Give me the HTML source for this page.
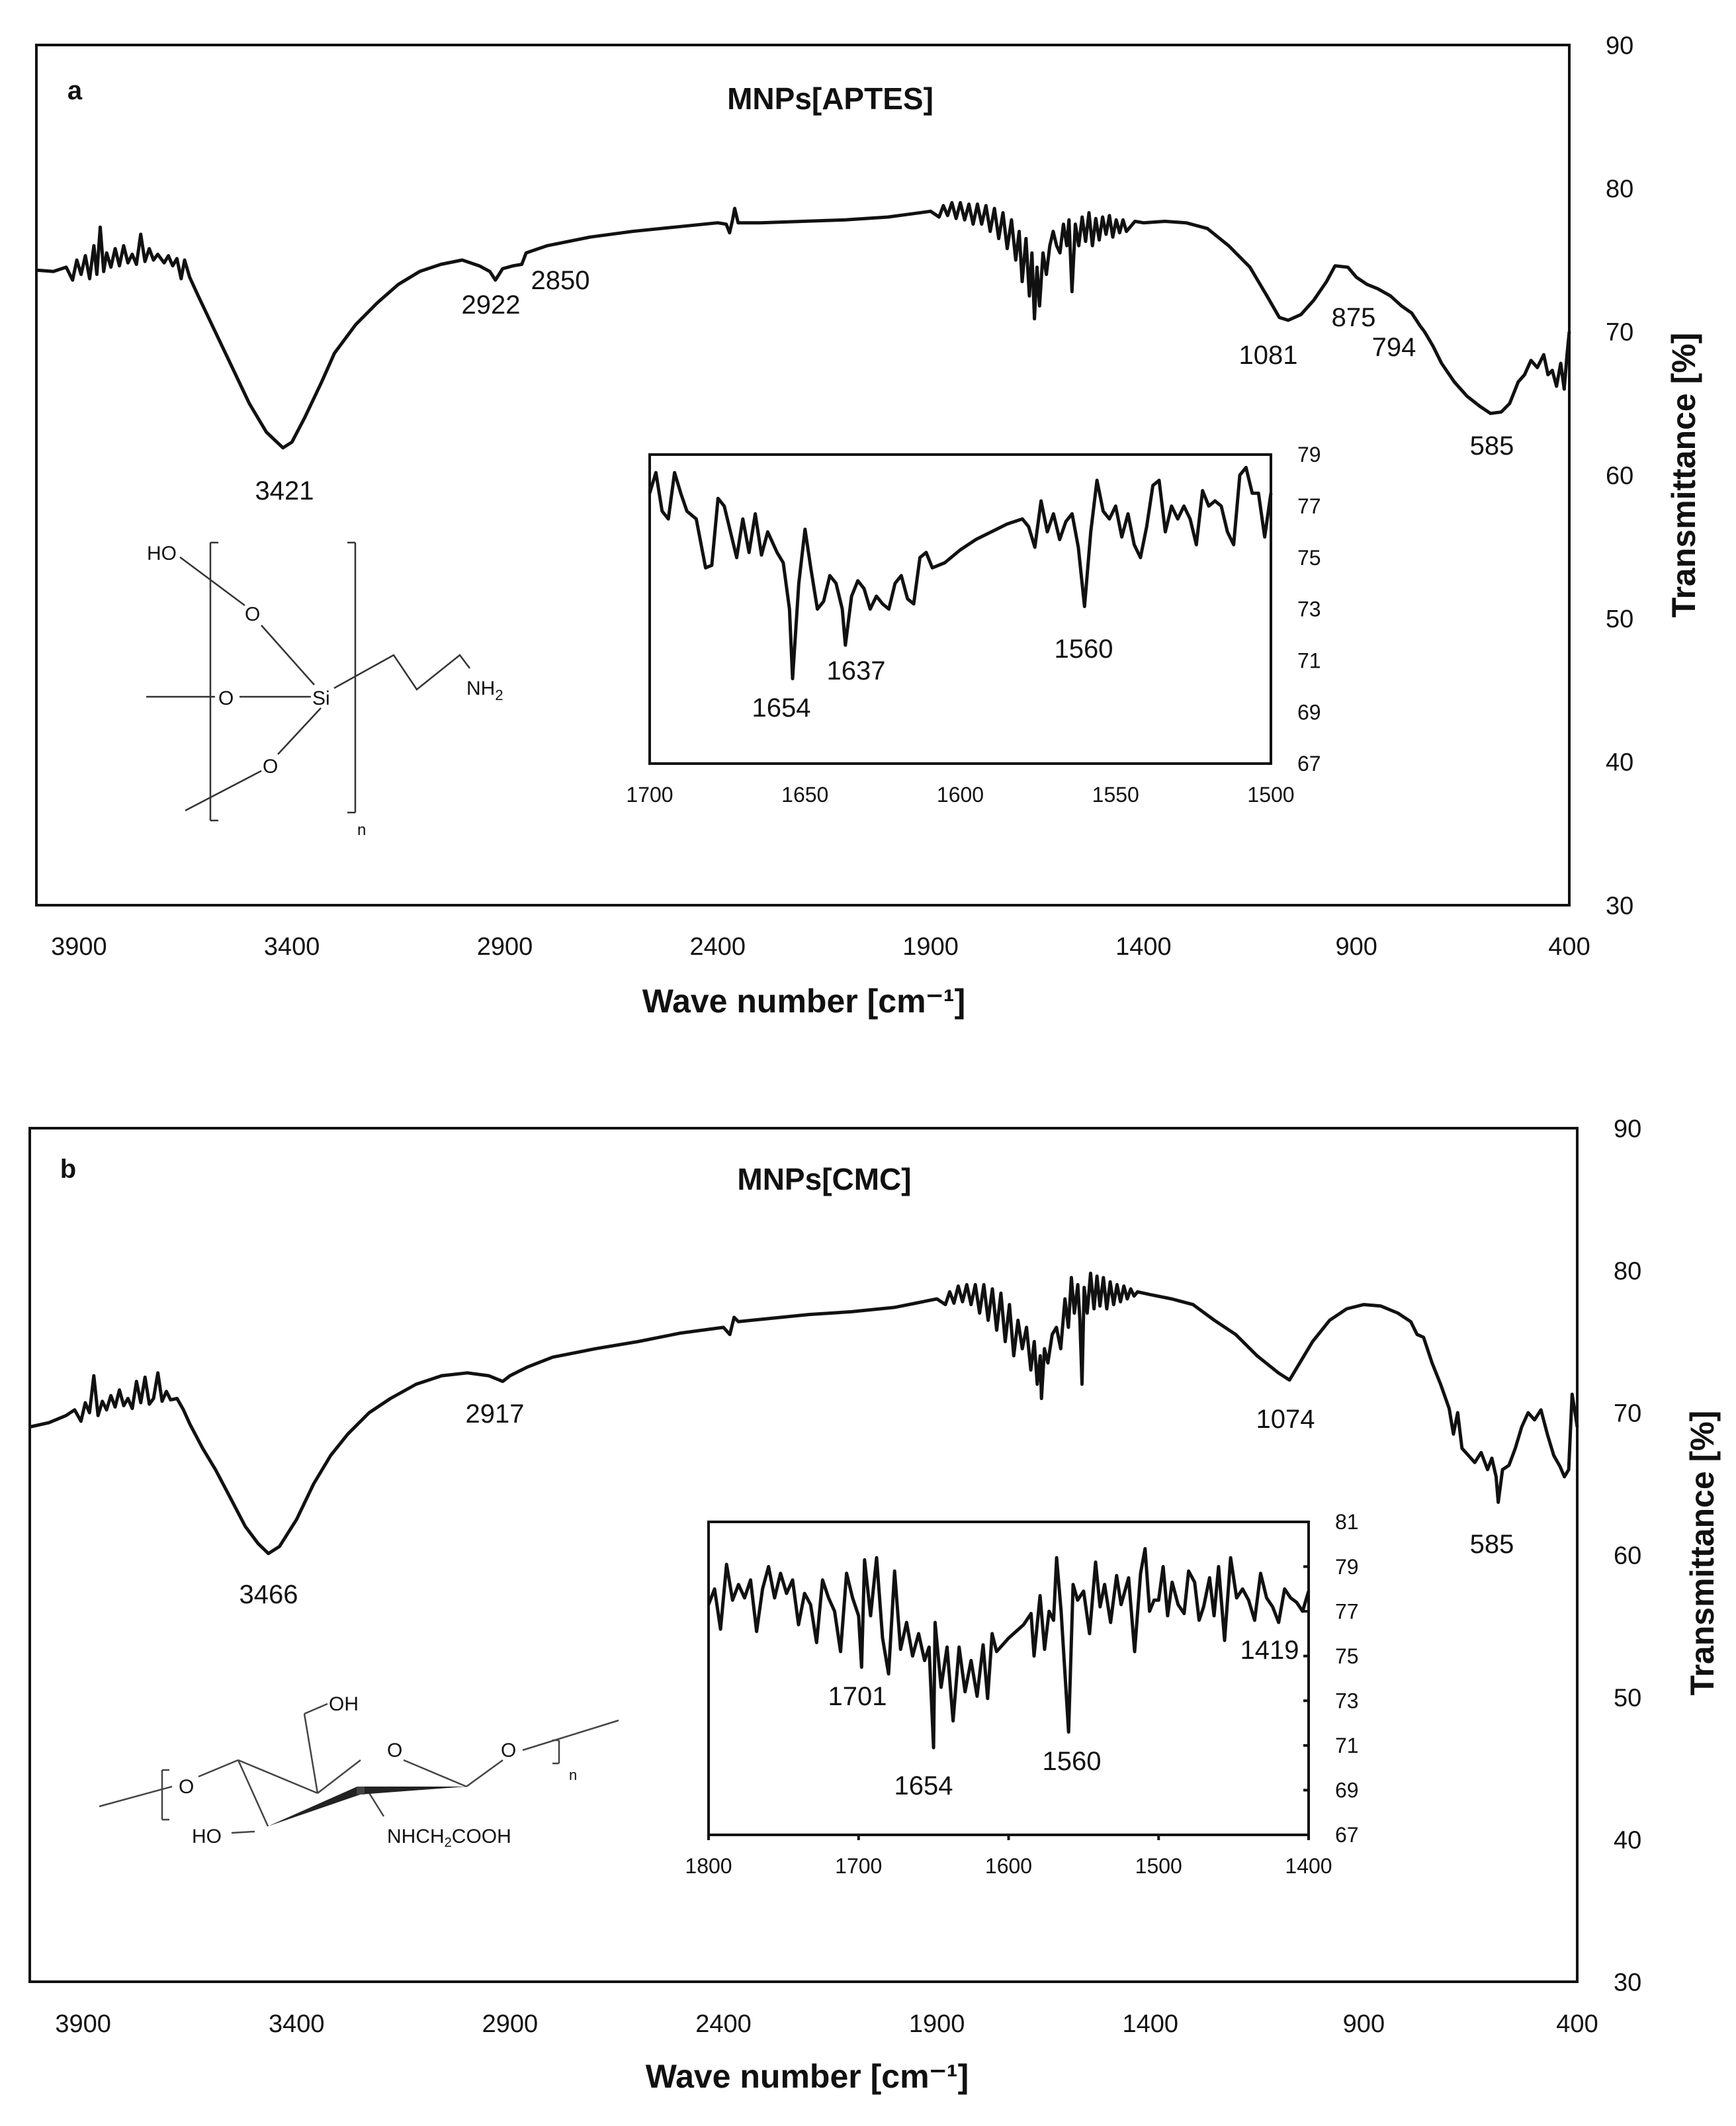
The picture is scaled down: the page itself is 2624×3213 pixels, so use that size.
<!DOCTYPE html>
<html><head><meta charset="utf-8"><style>
body{margin:0;background:#fff}
svg{display:block}
text{font-family:"Liberation Sans",sans-serif;fill:#111}
</style></head><body>
<svg id="fig" xmlns="http://www.w3.org/2000/svg" width="2624" height="3213" viewBox="0 0 2624 3213">
<rect width="2624" height="3213" fill="#fff"/>
<g id="panelA"></g>
<g id="panelB"></g>
<g id="structA" stroke="#333" stroke-width="2.5" fill="none">
 <line x1="318" y1="820" x2="318" y2="1240"/><line x1="318" y1="820" x2="330" y2="820"/><line x1="318" y1="1240" x2="330" y2="1240"/>
 <line x1="537" y1="820" x2="537" y2="1228"/><line x1="525" y1="820" x2="537" y2="820"/><line x1="525" y1="1228" x2="537" y2="1228"/>
 <line x1="272" y1="842" x2="370" y2="915"/><line x1="395" y1="945" x2="475" y2="1035"/>
 <line x1="221" y1="1053" x2="325" y2="1053"/><line x1="362" y1="1053" x2="470" y2="1053"/>
 <line x1="485" y1="1070" x2="420" y2="1140"/><line x1="395" y1="1165" x2="280" y2="1225"/>
 <polyline points="505,1040 595,990 630,1042 695,990 710,1010"/>
</g>
<g font-size="30">
 <text x="222" y="846">HO</text><text x="370" y="938">O</text><text x="330" y="1065">O</text>
 <text x="472" y="1065">Si</text><text x="397" y="1168">O</text><text x="705" y="1050">NH<tspan font-size="22" dy="8">2</tspan></text>
 <text x="540" y="1262" font-size="24">n</text>
</g>
<g id="structB" stroke="#444" stroke-width="2.5" fill="none">
 <line x1="150" y1="2730" x2="260" y2="2700"/><line x1="245" y1="2675" x2="245" y2="2750"/><line x1="245" y1="2675" x2="256" y2="2675"/><line x1="245" y1="2750" x2="256" y2="2750"/>
 <line x1="300" y1="2685" x2="360" y2="2660"/><line x1="360" y1="2660" x2="480" y2="2710"/><line x1="360" y1="2660" x2="405" y2="2760"/>
 <line x1="480" y1="2710" x2="545" y2="2660"/><line x1="480" y1="2710" x2="460" y2="2590"/><line x1="460" y1="2590" x2="495" y2="2575"/>
 <line x1="610" y1="2660" x2="705" y2="2700"/><line x1="705" y1="2700" x2="760" y2="2660"/><line x1="790" y1="2645" x2="935" y2="2600"/>
 <line x1="845" y1="2630" x2="845" y2="2665"/><line x1="835" y1="2630" x2="845" y2="2630"/><line x1="835" y1="2665" x2="845" y2="2665"/>
 <line x1="385" y1="2768" x2="350" y2="2770"/><line x1="555" y1="2705" x2="580" y2="2745"/>
 <polygon points="405,2760 540,2700 705,2700 545,2712" fill="#222" stroke="none"/>
 <line x1="545" y1="2700" x2="545" y2="2712" stroke-width="12"/>
</g>
<g font-size="30" fill="#333">
 <text x="270" y="2710">O</text><text x="497" y="2585">OH</text><text x="585" y="2655">O</text>
 <text x="757" y="2655">O</text><text x="860" y="2690" font-size="22">n</text>
 <text x="290" y="2785">HO</text><text x="585" y="2785">NHCH<tspan font-size="20" dy="6">2</tspan><tspan dy="-6">COOH</tspan></text>
</g>
</svg>
<script>
// ---- Panel a main spectrum (wavenumber, %T)
const aWave=[4000,3960,3930,3915,3905,3895,3885,3875,3865,3858,3850,3842,3835,3825,3815,3805,3795,3785,3775,3765,3755,3745,3735,3725,3715,3700,3690,3680,3670,3660,3652,3640,3620,3580,3540,3500,3460,3421,3400,3370,3330,3300,3250,3200,3150,3100,3050,3000,2960,2935,2922,2905,2880,2860,2850,2800,2700,2600,2500,2400,2380,2372,2365,2360,2352,2300,2200,2100,2000,1950,1900,1880,1870,1860,1850,1840,1830,1820,1810,1800,1790,1780,1770,1760,1750,1740,1730,1720,1710,1700,1692,1685,1676,1668,1662,1656,1650,1644,1636,1628,1620,1612,1604,1596,1588,1580,1575,1568,1560,1552,1544,1536,1528,1520,1512,1504,1496,1488,1480,1472,1464,1456,1448,1440,1420,1400,1350,1300,1250,1200,1150,1110,1081,1060,1030,1000,970,950,920,900,875,850,820,794,770,750,740,720,700,670,640,610,585,560,540,520,505,490,475,460,450,440,430,420,412,405,400];
const aTrans=[74.3,74.2,74.5,73.6,75.0,74.0,75.3,73.7,76.0,74.0,77.3,74.2,75.5,74.5,75.8,74.6,76.0,74.8,75.4,74.7,76.8,74.9,75.8,75.0,75.4,74.8,75.3,74.6,75.1,73.7,75.0,73.8,72.5,70.0,67.5,65.0,63.0,61.9,62.3,64.0,66.5,68.5,70.5,72.0,73.3,74.2,74.7,75.0,74.6,74.2,73.6,74.4,74.6,74.7,75.5,76.0,76.6,77.0,77.3,77.6,77.5,76.9,77.8,78.6,77.6,77.6,77.7,77.8,78.0,78.2,78.4,78.0,78.8,78.1,79.0,77.9,79.0,77.8,78.9,77.5,78.9,77.5,78.8,77.0,78.6,76.5,78.3,75.8,77.8,75.0,77.0,73.5,76.5,72.5,75.5,70.9,74.5,71.8,75.5,74.0,76.0,77.0,76.0,75.5,77.5,76.0,77.8,72.8,77.5,76.0,78.0,76.3,78.3,76.0,77.9,76.4,78.0,76.8,78.1,76.6,77.8,76.9,77.8,77.0,77.7,77.6,77.7,77.6,77.2,76.0,74.5,72.5,71.0,70.8,71.2,72.2,73.5,74.6,74.5,73.8,73.3,73.0,72.5,71.8,71.3,70.4,70.0,69.0,67.8,66.5,65.5,64.8,64.3,64.4,65.0,66.5,67.0,68.0,67.5,68.4,67.0,67.3,66.2,67.8,66.0,68.5,70.0,69.0];
// ---- Panel a inset
const aiWave=[1700,1698,1696,1694,1692,1690,1688,1685,1682,1680,1678,1676,1674,1672,1670,1668,1666,1664,1662,1659,1657,1655,1654,1652,1650,1648,1646,1644,1642,1640,1638,1637,1635,1633,1631,1629,1627,1625,1623,1621,1619,1617,1615,1613,1611,1609,1605,1600,1595,1590,1585,1580,1578,1576,1574,1572,1570,1568,1566,1564,1562,1560,1558,1556,1554,1552,1550,1548,1546,1544,1542,1540,1538,1536,1534,1532,1530,1528,1526,1524,1522,1520,1518,1516,1514,1512,1510,1508,1506,1504,1502,1500];
const aiTrans=[77.5,78.3,76.8,76.5,78.3,77.5,76.8,76.5,74.6,74.7,77.3,77.0,76.0,75.0,76.5,75.2,76.7,75.1,76.0,75.2,74.8,73.0,70.3,74.0,76.1,74.5,73.0,73.3,74.3,74.0,73.0,71.6,73.5,74.1,73.8,73.0,73.5,73.2,73.0,74.0,74.3,73.4,73.2,75.0,75.2,74.6,74.8,75.3,75.7,76.0,76.3,76.5,76.2,75.4,77.2,76.0,76.7,75.7,76.4,76.7,75.4,73.1,76.0,78.0,76.8,76.5,77.0,75.8,76.7,75.5,75.0,76.2,77.8,78.0,76.0,77.0,76.5,77.0,76.5,75.5,77.6,77.0,77.2,77.0,76.0,75.5,78.2,78.5,77.5,77.5,75.8,77.5];
// ---- Panel b main spectrum
const bWave=[4025,3980,3940,3920,3905,3895,3885,3875,3865,3855,3845,3835,3825,3815,3805,3795,3785,3775,3765,3755,3745,3735,3725,3715,3705,3695,3680,3665,3650,3620,3590,3560,3520,3490,3466,3440,3400,3360,3320,3280,3230,3180,3120,3060,3000,2950,2917,2900,2880,2860,2800,2700,2600,2500,2400,2385,2375,2365,2300,2200,2100,2000,1950,1900,1880,1870,1860,1850,1840,1830,1820,1810,1800,1790,1780,1770,1760,1750,1740,1730,1720,1710,1700,1690,1680,1672,1665,1658,1655,1648,1640,1630,1620,1610,1600,1592,1585,1578,1570,1565,1560,1555,1548,1540,1532,1525,1518,1510,1502,1494,1486,1478,1470,1462,1454,1446,1438,1430,1400,1350,1300,1250,1200,1150,1100,1074,1050,1020,980,940,900,860,820,790,775,760,740,720,700,690,680,670,655,640,625,610,600,590,585,575,560,545,530,515,500,485,470,455,440,430,420,412,405,400];
const bTrans=[69.0,69.3,69.8,70.2,69.4,70.7,70.0,72.6,69.8,70.8,70.2,71.2,70.4,71.6,70.5,71.0,70.3,72.2,70.7,72.5,70.6,71.0,72.8,70.8,71.5,70.9,71.0,70.2,69.2,67.5,66.0,64.3,62.0,60.8,60.1,60.6,62.5,65.0,67.0,68.5,70.0,71.0,72.0,72.6,72.8,72.6,72.2,72.6,72.9,73.2,73.9,74.5,75.0,75.6,76.0,75.5,76.7,76.4,76.6,76.9,77.1,77.4,77.7,78.0,77.6,78.5,77.7,78.9,77.8,79.0,77.6,79.0,77.0,79.0,76.5,78.7,75.8,78.4,75.0,77.6,74.0,76.5,74.5,76.0,73.0,75.0,72.0,74.0,71.0,74.5,73.5,75.5,76.0,74.5,78.0,76.0,79.5,77.0,79.0,76.5,72.0,78.8,77.0,79.8,77.3,79.6,77.5,79.5,77.3,79.2,77.6,79.0,77.8,78.9,78.0,78.7,78.2,78.5,78.3,78.0,77.6,76.5,75.5,74.0,72.8,72.3,73.5,75.0,76.5,77.3,77.6,77.5,77.0,76.4,75.5,75.3,73.5,72.0,70.3,68.5,70.0,67.5,67.0,66.5,67.2,66.0,66.8,65.5,63.7,66.0,66.3,67.5,69.0,70.0,69.5,70.2,68.5,67.0,66.2,65.5,66.0,71.3,70.0,69.0];
// ---- Panel b inset
const biWave=[1800,1796,1792,1788,1784,1780,1776,1772,1768,1764,1760,1756,1752,1748,1744,1740,1736,1732,1728,1724,1720,1716,1712,1708,1704,1700,1698,1696,1692,1688,1684,1680,1676,1672,1668,1664,1660,1656,1653,1650,1649,1645,1641,1637,1633,1629,1625,1621,1617,1614,1611,1608,1600,1590,1585,1583,1579,1576,1573,1570,1568,1565,1560,1557,1554,1550,1546,1542,1539,1536,1532,1528,1525,1520,1516,1512,1509,1506,1503,1500,1497,1494,1491,1487,1483,1480,1476,1473,1470,1466,1463,1460,1456,1452,1448,1444,1440,1436,1432,1428,1424,1420,1416,1412,1408,1404,1400];
const biTrans=[77.3,78.0,76.2,79.1,77.5,78.2,77.6,78.4,76.1,78.0,79.0,77.6,78.7,77.8,78.4,76.4,77.8,77.3,75.6,78.4,77.6,77.0,75.2,78.7,77.6,76.8,74.5,79.3,76.8,79.4,75.8,74.2,78.8,75.3,76.5,75.0,76.0,74.8,75.4,70.9,76.5,73.6,75.4,72.1,75.4,73.4,74.8,73.2,75.5,73.1,76.0,75.2,75.8,76.4,76.9,75.0,77.7,75.3,77.0,76.6,79.4,77.0,71.6,78.2,77.5,77.9,76.0,79.2,77.2,78.2,76.5,78.6,77.3,78.5,75.2,78.7,79.8,77.0,77.5,77.5,79.0,76.8,78.3,77.3,76.9,78.8,78.3,76.6,77.2,78.5,76.8,79.0,75.7,79.4,77.6,78.0,77.5,76.6,78.7,77.6,77.2,76.5,78.0,77.6,77.4,77.0,77.9];
const mainXTicks=[3900,3400,2900,2400,1900,1400,900,400];
const mainYTicks=[30,40,50,60,70,80,90];
const aiXTicks=[1700,1650,1600,1550,1500];
const aiYTicks=[67,69,71,73,75,77,79];
const biXTicks=[1800,1700,1600,1500,1400];
const biYTicks=[67,69,71,73,75,77,79,81];

const NS="http://www.w3.org/2000/svg";
function mk(parent,tag,attrs,txt){const e=document.createElementNS(NS,tag);for(const k in attrs)e.setAttribute(k,attrs[k]);if(txt!==undefined)e.textContent=txt;parent.appendChild(e);return e;}
function scale(d0,d1,r0,r1){return v=>r0+(v-d0)/(d1-d0)*(r1-r0);}

function drawPlot(g,o){
  const X=scale(o.xd[0],o.xd[1],o.x0,o.x1), Y=scale(o.yd[0],o.yd[1],o.y1,o.y0);
  const box=mk(g,'rect',{x:o.x0,y:o.y0,width:o.x1-o.x0,height:o.y1-o.y0,fill:'none',stroke:'#111','stroke-width':o.bw});
  
  
  o.xt.forEach(t=>{
    const l=mk(g,'line',{x1:X(t),x2:X(t),y1:o.y1,y2:o.y1-o.tk,stroke:'#111','stroke-width':o.bw});
    
    
    const tx=mk(g,'text',{x:X(t),y:o.y1+o.xlOff,'font-size':o.fs,'text-anchor':'middle'},t);
    
    
  });
  o.yt.forEach(t=>{
    const l=mk(g,'line',{x1:o.x1,x2:o.x1+o.tk,y1:Y(t),y2:Y(t),stroke:'#111','stroke-width':o.bw});
    
    
    const tx=mk(g,'text',{x:o.x1+o.ylOff,y:Y(t)+o.fs*0.35,'font-size':o.fs},t);
    
    
  });
  let d='';o.w.forEach((w,i)=>{d+=(i?'L':'M')+X(w).toFixed(1)+','+Y(o.t[i]).toFixed(1);});
  const p=mk(g,'path',{d:d,fill:'none',stroke:'#111','stroke-width':o.lw,'stroke-linejoin':'round'});
  
  
}
function label(g,x,y,s,fs,name,extra){const t=mk(g,'text',Object.assign({x:x,y:y,'font-size':fs,'text-anchor':'middle'},extra||{}),s);
  
  return t;}

const A=document.getElementById('panelA'), B=document.getElementById('panelB');
drawPlot(A,{name:'main-a',x0:55,x1:2372,y0:68,y1:1368,xd:[4000,400],yd:[30,90],xt:mainXTicks,yt:mainYTicks,w:aWave,t:aTrans,bw:4,lw:5,tk:0,fs:38,xlOff:75,ylOff:55});
drawPlot(A,{name:'inset-a',x0:982,x1:1921,y0:687,y1:1154,xd:[1700,1500],yd:[67,79],xt:aiXTicks,yt:aiYTicks,w:aiWave,t:aiTrans,bw:4,lw:5,tk:0,fs:32,xlOff:58,ylOff:40});
drawPlot(B,{name:'main-b',x0:45,x1:2384,y0:1705,y1:2995,xd:[4025,400],yd:[30,90],xt:mainXTicks,yt:mainYTicks,w:bWave,t:bTrans,bw:4,lw:5,tk:0,fs:38,xlOff:76,ylOff:55});
drawPlot(B,{name:'inset-b',x0:1071,x1:1978,y0:2300,y1:2773,xd:[1800,1400],yd:[67,81],xt:biXTicks,yt:biYTicks,w:biWave,t:biTrans,bw:4,lw:5,tk:-8,fs:32,xlOff:58,ylOff:40});

label(A,113,150,'a',40,'panel-a-letter',{'font-weight':'bold'});
label(A,1255,165,'MNPs[APTES]',46,'panel-a-title',{'font-weight':'bold'});
label(A,1215,1530,'Wave number [cm⁻¹]',50,'panel-a-x-axis-title',{'font-weight':'bold'});
label(A,0,0,'Transmittance [%]',50,'panel-a-y-axis-title',{'font-weight':'bold',transform:'translate(2562,718) rotate(-90)'});
[['3421',430,755],['2922',742,474],['2850',847,437],['1081',1917,550],['875',2046,493],['794',2107,538],['585',2255,687]].forEach(p=>label(A,p[1],p[2],p[0],40,'peak-label-'+p[0]));
[['1654',1181,1083],['1637',1294,1027],['1560',1638,994]].forEach(p=>label(A,p[1],p[2],p[0],40,'inset-a-peak-'+p[0]));

label(B,103,1780,'b',40,'panel-b-letter',{'font-weight':'bold'});
label(B,1246,1798,'MNPs[CMC]',46,'panel-b-title',{'font-weight':'bold'});
label(B,1220,3155,'Wave number [cm⁻¹]',50,'panel-b-x-axis-title',{'font-weight':'bold'});
label(B,0,0,'Transmittance [%]',50,'panel-b-y-axis-title',{'font-weight':'bold',transform:'translate(2590,2347) rotate(-90)'});
[['2917',748,2150],['3466',406,2423],['1074',1943,2158],['585',2255,2347]].forEach(p=>label(B,p[1],p[2],p[0],40,'peak-label-b-'+p[0]));
[['1701',1296,2577],['1654',1396,2712],['1560',1620,2675],['1419',1919,2507]].forEach(p=>label(B,p[1],p[2],p[0],40,'inset-b-peak-'+p[0]));
</script>
</body></html>
